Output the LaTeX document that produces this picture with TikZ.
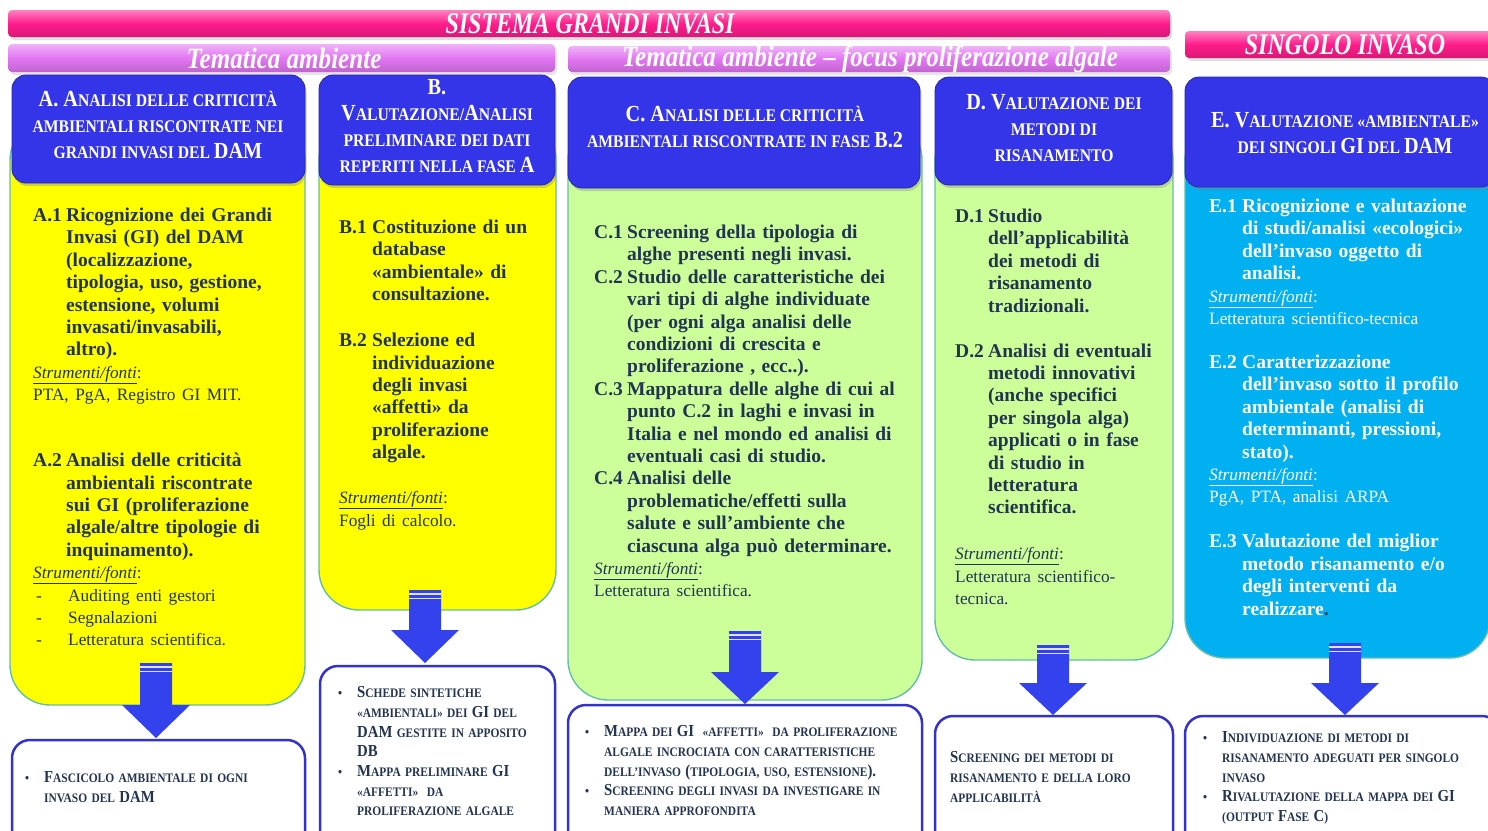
\documentclass[tikz,border=0pt]{standalone}
\usepackage{fontspec}
\setmainfont{Liberation Serif}
\newfontfamily\hdfont[FakeStretch=0.88]{Liberation Serif}
\newfontfamily\barfont[FakeStretch=0.8]{Liberation Serif}
\newfontfamily\violfont[FakeStretch=0.85]{Liberation Serif}
\usetikzlibrary{shadows,fit}
\setlength\parskip{0pt}
\definecolor{txt}{RGB}{35,52,82}
\definecolor{hdblue}{RGB}{52,52,232}
\definecolor{ylw}{RGB}{255,255,0}
\definecolor{grn}{RGB}{204,255,153}
\definecolor{cyn}{RGB}{0,176,240}
\definecolor{barpink}{RGB}{255,28,140}
\definecolor{barviol}{RGB}{226,118,242}
\definecolor{arrblue}{RGB}{52,66,238}
\definecolor{outl}{RGB}{51,51,204}
\definecolor{edge}{RGB}{100,190,170}
\def\nl{\hfil\break}
\newcommand\Lg[1]{{\fontsize{23}{26}\selectfont #1}}
\newcommand\Lb[1]{{\fontsize{16.8}{19.7}\selectfont #1}}
\newcommand\itm[2]{\par\hangindent=33pt\hangafter=1\noindent\makebox[33pt][l]{#1}#2\par}
\newcommand\reg[1]{\par\noindent{\mdseries\fontsize{17.3}{22.4}\selectfont #1}\par}
\newcommand\stru{\par\noindent{\mdseries\fontsize{17.3}{22.4}\selectfont\underline{\textit{Strumenti/fonti}}:}\par}
\newcommand\dsh[1]{\par\noindent{\mdseries\fontsize{17.3}{22.4}\selectfont\makebox[35pt][l]{\hspace{3pt}-}#1}\par}
\newcommand\blt[1]{\par\hangindent=19pt\hangafter=1\noindent\makebox[19pt][l]{•}#1\par}
\newcommand\barrow[5]{%
  \coordinate (#5s) at (#1,#2);
  \coordinate (#5t) at (#1,#4);
  \fill[arrblue] (#1-16,#2) -- (#1+16,#2) -- (#1+16,#3) -- (#1+34,#3) -- (#5t) -- (#1-34,#3) -- (#1-16,#3) -- cycle;
  \fill[white,opacity=0.85] (#1-16,#2+3) rectangle (#1+16,#2+4.5);
  \fill[white,opacity=0.85] (#1-16,#2+7.5) rectangle (#1+16,#2+9);
}
\tikzset{
  pinkbar/.style={inner sep=0pt, rounded corners=4pt, top color=barpink!55!white, bottom color=barpink!85!black, middle color=barpink, drop shadow={opacity=0.25, shadow xshift=2pt, shadow yshift=-3pt}},
  violbar/.style={inner sep=0pt, rounded corners=4pt, top color=barviol!55!white, bottom color=barviol!85!black, middle color=barviol, drop shadow={opacity=0.2, shadow xshift=2pt, shadow yshift=-3pt}},
  bartext/.style={inner sep=0pt, text=white, font=\barfont\bfseries\itshape\fontsize{30}{30}\selectfont},
  violtext/.style={inner sep=0pt, text=white, font=\violfont\bfseries\itshape\fontsize{29.5}{29.5}\selectfont},
  hdbox/.style={inner sep=0pt, rounded corners=14pt, fill=hdblue, draw=hdblue!75!black, line width=0.8pt, drop shadow={opacity=0.35, shadow xshift=1.5pt, shadow yshift=-3pt}},
  hdtext/.style={inner sep=0pt, text=white, align=center, font=\hdfont\bfseries\fontsize{17.8}{26}\selectfont},
  bodybox/.style={inner sep=0pt, rounded corners=40pt, draw=edge, line width=1.4pt, fill=#1},
  bodytext/.style={anchor=base west, inner sep=0pt, text width=#1, align=left, text=txt, font=\bfseries\fontsize{19.5}{22.4}\selectfont},
  outbox/.style={inner sep=0pt, rounded corners=18pt, draw=outl, line width=2.5pt, fill=white},
  outtext/.style={anchor=base west, inner sep=0pt, text width=#1, align=left, text=txt, font=\hdfont\bfseries\fontsize{13}{19.7}\selectfont},
}
\begin{document}
\begin{tikzpicture}[x=1pt,y=-1pt]
\useasboundingbox (0,0) rectangle (1488,830);
\clip (0,0) rectangle (1488,830);
\fill[white] (0,0) rectangle (1488,830);

% top bars
\node[pinkbar, fit={(8,10) (1170,37)}] (sgi) {};
\node[bartext] (sgit) at (590,24) {SISTEMA GRANDI INVASI};
\node[violbar, fit={(8,44) (555,72)}] (ta) {};
\node[violtext] (tat) at (284,58) {Tematica ambiente};
\node[violbar, fit={(568,46) (1170,72)}] (tf) {};
\node[violtext] (tft) at (870,59) {Tematica ambiente – focus proliferazione algale};
\node[pinkbar, fit={(1185,31) (1505,58)}] (si) {};
\node[bartext] (sit) at (1345,45) {SINGOLO INVASO};

% body boxes
\node[bodybox=ylw, fit={(10,120) (305,705)}] (bA) {};
\node[bodybox=ylw, fit={(319,120) (556,610)}] (bB) {};
\node[bodybox=grn, fit={(568,120) (922,700)}] (bC) {};
\node[bodybox=grn, fit={(935,120) (1173,660)}] (bD) {};
\node[bodybox=cyn, fit={(1185,120) (1490,658)}] (bE) {};

% headers
\node[hdbox, fit={(12,75) (305,183)}] (hA) {};
\node[hdbox, fit={(319,75) (555,185)}] (hB) {};
\node[hdbox, fit={(568,77) (920,188)}] (hC) {};
\node[hdbox, fit={(935,77) (1172,185)}] (hD) {};
\node[hdbox, fit={(1185,77) (1495,187)}] (hE) {};

\node[hdtext] (hAt) at (158,125) {\Lg{A. A}NALISI DELLE CRITICITÀ\\AMBIENTALI RISCONTRATE NEI\\GRANDI INVASI DEL \Lg{DAM}};
\node[hdtext] (hBt) at (437,126) {\Lg{B.}\\\Lg{V}ALUTAZIONE/\Lg{A}NALISI\\PRELIMINARE DEI DATI\\REPERITI NELLA FASE \Lg{A}};
\node[hdtext] (hCt) at (745,127) {\Lg{C. A}NALISI DELLE CRITICITÀ\\AMBIENTALI RISCONTRATE IN FASE \Lg{B.2}};
\node[hdtext] (hDt) at (1054,128) {\Lg{D. V}ALUTAZIONE DEI\\METODI DI\\RISANAMENTO};
\node[hdtext] (hEt) at (1345,133) {\Lg{E. V}ALUTAZIONE «AMBIENTALE»\\DEI SINGOLI \Lg{GI} DEL \Lg{DAM}};

% body texts
\node[bodytext=280pt] (tA) at (33,199) {%
\itm{A.1}{Ricognizione dei Grandi\nl Invasi (GI) del DAM\nl (localizzazione,\nl tipologia, uso, gestione,\nl estensione, volumi\nl invasati/invasabili,\nl altro).}
\stru
\reg{PTA, PgA, Registro GI MIT.}
\vspace{43.6pt}
\itm{A.2}{Analisi delle criticità\nl ambientali riscontrate\nl sui GI (proliferazione\nl algale/altre tipologie di\nl inquinamento).}
\stru
\dsh{Auditing enti gestori}
\dsh{Segnalazioni}
\dsh{Letteratura scientifica.}};

\node[bodytext=215pt] (tB) at (339,211) {%
\itm{B.1}{Costituzione di un\nl database\nl «ambientale» di\nl consultazione.}
\vspace{23.6pt}
\itm{B.2}{Selezione ed\nl individuazione\nl degli invasi\nl «affetti» da\nl proliferazione\nl algale.}
\vspace{22.6pt}
\stru
\reg{Fogli di calcolo.}};

\node[bodytext=320pt] (tC) at (594,216) {%
\itm{C.1}{Screening della tipologia di\nl alghe presenti negli invasi.}
\itm{C.2}{Studio delle caratteristiche dei\nl vari tipi di alghe individuate\nl (per ogni alga analisi delle\nl condizioni di crescita e\nl proliferazione , ecc..).}
\itm{C.3}{Mappatura delle alghe di cui al\nl punto C.2 in laghi e invasi in\nl Italia e nel mondo ed analisi di\nl eventuali casi di studio.}
\itm{C.4}{Analisi delle\nl problematiche/effetti sulla\nl salute e sull’ambiente che\nl ciascuna alga può determinare.}
\stru
\reg{Letteratura scientifica.}};

\node[bodytext=215pt] (tD) at (955,200) {%
\itm{D.1}{Studio\nl dell’applicabilità\nl dei metodi di\nl risanamento\nl tradizionali.}
\vspace{22.6pt}
\itm{D.2}{Analisi di eventuali\nl metodi innovativi\nl (anche specifici\nl per singola alga)\nl applicati o in fase\nl di studio in\nl letteratura\nl scientifica.}
\vspace{23.4pt}
\stru
\reg{Letteratura scientifico-\nl tecnica.}};

\node[bodytext=280pt, text=white] (tE) at (1209,190) {%
\itm{E.1}{Ricognizione e valutazione\nl di studi/analisi «ecologici»\nl dell’invaso oggetto di\nl analisi.}
\stru
\reg{Letteratura scientifico-tecnica}
\vspace{21.6pt}
\itm{E.2}{Caratterizzazione\nl dell’invaso sotto il profilo\nl ambientale (analisi di\nl determinanti, pressioni,\nl stato).}
\stru
\reg{PgA, PTA, analisi ARPA}
\vspace{22.6pt}
\itm{E.3}{Valutazione del miglior\nl metodo risanamento e/o\nl degli interventi da\nl realizzare{\color{txt}.}}};

% output boxes
\node[outbox, fit={(12,740) (305,850)}] (oA) {};
\node[outbox, fit={(320,666) (555,850)}] (oB) {};
\node[outbox, fit={(568,705) (922,850)}] (oC) {};
\node[outbox, fit={(935,716) (1173,850)}] (oD) {};
\node[outbox, fit={(1185,716) (1500,850)}] (oE) {};

% arrows
\barrow{156}{663}{705}{738}{aA}
\barrow{425}{590}{630}{663}{aB}
\barrow{745}{631}{672}{704}{aC}
\barrow{1053}{645}{683}{715}{aD}
\barrow{1345}{643}{683}{715}{aE}

% output texts
\node[outtext=275pt] (oAt) at (25,763) {%
\blt{\Lb{F}ASCICOLO AMBIENTALE DI OGNI\nl INVASO DEL \Lb{DAM}}};
\node[outtext=215pt] (oBt) at (338,678) {%
\blt{\Lb{S}CHEDE SINTETICHE\nl «AMBIENTALI» DEI \Lb{GI} DEL\nl \Lb{DAM} GESTITE IN APPOSITO\nl \Lb{DB}}
\blt{\Lb{M}APPA PRELIMINARE \Lb{GI}\nl «AFFETTI»\ \ DA\nl PROLIFERAZIONE ALGALE}};
\node[outtext=335pt] (oCt) at (585,717) {%
\blt{\Lb{M}APPA DEI \Lb{GI}\ \ «AFFETTI»\ \ DA PROLIFERAZIONE\nl ALGALE INCROCIATA CON CARATTERISTICHE\nl DELL’INVASO \Lb{(}TIPOLOGIA, USO, ESTENSIONE\Lb{).}}
\blt{\Lb{S}CREENING DEGLI INVASI DA INVESTIGARE IN\nl MANIERA APPROFONDITA}};
\node[outtext=215pt] (oDt) at (950,743) {%
\par\noindent\Lb{S}CREENING DEI METODI DI\nl RISANAMENTO E DELLA LORO\nl APPLICABILITÀ\par};
\node[outtext=280pt] (oEt) at (1203,723) {%
\blt{\Lb{I}NDIVIDUAZIONE DI METODI DI\nl RISANAMENTO ADEGUATI PER SINGOLO\nl INVASO}
\blt{\Lb{R}IVALUTAZIONE DELLA MAPPA DEI \Lb{GI}\nl (OUTPUT \Lb{F}ASE \Lb{C})}};
\end{tikzpicture}
\end{document}
